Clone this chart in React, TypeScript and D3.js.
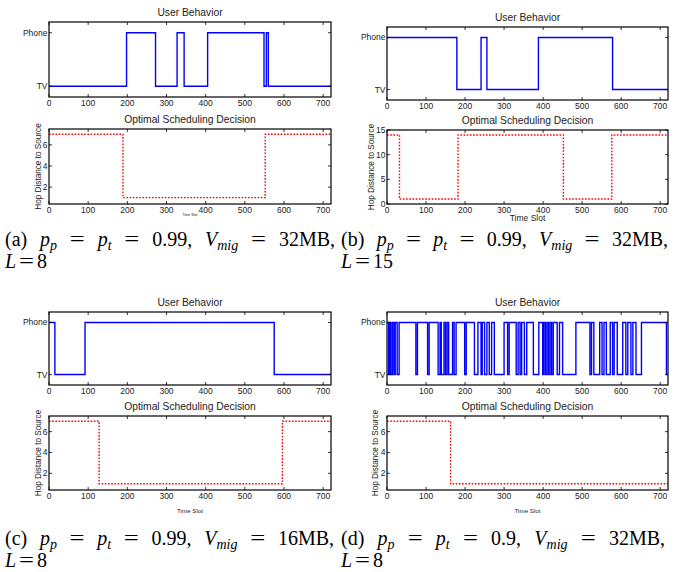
import React from "react";
import * as d3 from "d3";

// ---------------- DATA ----------------
const X_MAX = 720;
const xTickValues = [0, 100, 200, 300, 400, 500, 600, 700];
const userStates = ["TV", "Phone"];

// (a)
const userA_times = [0, 198, 272, 327, 345, 405, 549, 555, 560];
const userA_states = ["TV", "Phone", "TV", "Phone", "TV", "Phone", "TV", "Phone", "TV"];
const decA_times = [0, 189, 552];
const decA_hops = [7, 1, 7];

// (b)
const userB_times = [0, 179, 241, 256, 388, 578];
const userB_states = ["Phone", "TV", "Phone", "TV", "Phone", "TV"];
const decB_times = [0, 32, 182, 452, 576];
const decB_hops = [14, 1, 14, 1, 14];

// (c)
const userC_times = [0, 15, 92, 575];
const userC_states = ["Phone", "TV", "Phone", "TV"];
const decC_times = [0, 128, 596];
const decC_hops = [7, 1, 7];

// (d) – periods spent on the TV (Phone otherwise)
const userD_tvPeriods: [number, number][] = [
  [4, 7], [10, 14], [18, 21], [26, 31],
  [74, 78], [104, 108],
  [131, 136], [139, 146], [150, 154], [158, 168], [172, 177],
  [199, 203], [224, 233],
  [241, 244], [250, 256], [262, 268], [275, 300],
  [309, 313], [331, 336], [341, 345], [352, 358], [375, 389],
  [399, 402], [406, 410], [414, 418], [422, 426],
  [436, 442], [450, 484],
  [520, 524], [530, 545], [551, 556], [562, 572], [578, 582],
  [590, 604], [612, 617], [625, 630], [638, 652],
  [716, 720],
];
const decD_times = [0, 163];
const decD_hops = [7, 1];

const hopTicksSmall = [2, 4, 6];
const hopTicksLarge = [0, 5, 10, 15];

// ---------------- HELPERS ----------------
const SANS = "'Liberation Sans', Arial, Helvetica, sans-serif";
const SERIF = "'Liberation Serif', 'Times New Roman', serif";

function stepPoints(times: number[], values: number[]): [number, number][] {
  const pts: [number, number][] = times.map((t, i) => [t, values[i]]);
  pts.push([X_MAX, values[values.length - 1]]);
  return pts;
}
function userPoints(times: number[], states: string[]) {
  return stepPoints(times, states.map((s) => userStates.indexOf(s)));
}
function tvPeriodsToPoints(periods: [number, number][]) {
  const times: number[] = [0];
  const vals: number[] = [1];
  periods.forEach(([a, b]) => {
    times.push(a); vals.push(0);
    if (b < X_MAX) { times.push(b); vals.push(1); }
  });
  return stepPoints(times, vals);
}

type AxesProps = {
  left: number; right: number; top: number; bottom: number;
  yDomain: [number, number];
  yTicks: number[];
  yFormat: (v: number) => string;
  data: [number, number][];
  stroke: string;
  dashed?: boolean;
  title: string;
  xlabel?: string;
  xlabelSize?: number;
  xlabelY?: number;
  ylabel?: string;
  ylabelX?: number;
};

function Axes(p: AxesProps) {
  const x = d3.scaleLinear().domain([0, X_MAX]).range([p.left, p.right]);
  const y = d3.scaleLinear().domain(p.yDomain).range([p.bottom, p.top]);
  const line = d3.line<[number, number]>()
    .x((d) => x(d[0]))
    .y((d) => y(d[1]))
    .curve(d3.curveStepAfter);
  const tl = 3;
  const cx = (p.left + p.right) / 2;
  const cy = (p.top + p.bottom) / 2;
  return (
    <g>
      <text x={cx} y={p.top - 6.5} textAnchor="middle" fontFamily={SANS} fontSize={10.3} fill="#222">
        {p.title}
      </text>
      <path d={line(p.data) || ""} fill="none" stroke={p.stroke} strokeWidth={1.4}
        strokeDasharray={p.dashed ? "1.6 1.6" : undefined} />
      {xTickValues.map((t) => (
        <g key={"x" + t}>
          <line x1={x(t)} x2={x(t)} y1={p.bottom} y2={p.bottom - tl} stroke="#000" strokeWidth={0.8} />
          <line x1={x(t)} x2={x(t)} y1={p.top} y2={p.top + tl} stroke="#000" strokeWidth={0.8} />
          <text x={x(t)} y={p.bottom + 8.5} textAnchor="middle" fontFamily={SANS} fontSize={8.5} fill="#222">
            {String(t)}
          </text>
        </g>
      ))}
      {p.yTicks.map((v) => (
        <g key={"y" + v}>
          <line x1={p.left} x2={p.left + tl} y1={y(v)} y2={y(v)} stroke="#000" strokeWidth={0.8} />
          <line x1={p.right} x2={p.right - tl} y1={y(v)} y2={y(v)} stroke="#000" strokeWidth={0.8} />
          <text x={p.left - 1.5} y={y(v) + 3} textAnchor="end" fontFamily={SANS} fontSize={8.5} fill="#222">
            {p.yFormat(v)}
          </text>
        </g>
      ))}
      <rect x={p.left} y={p.top} width={p.right - p.left} height={p.bottom - p.top}
        fill="none" stroke="#000" strokeWidth={1.2} />
      {p.xlabel && (
        <text x={cx} y={p.xlabelY} textAnchor="middle" fontFamily={SANS} fontSize={p.xlabelSize} fill="#222">
          {p.xlabel}
        </text>
      )}
      {p.ylabel && (
        <text transform={`translate(${p.ylabelX},${cy}) rotate(-90)`} textAnchor="middle"
          fontFamily={SANS} fontSize={8.2} fill="#222">
          {p.ylabel}
        </text>
      )}
    </g>
  );
}

// ---------------- CAPTIONS ----------------
const CAP_FS = 20;
const SUB_FS = 14;
const SUB_DY = 3.5;
const EQ_W = 15;
const LINE_GAP = 22;
type Seg = { t: string; it?: boolean; sub?: boolean };

let measureCtx: CanvasRenderingContext2D | null = null;
function segWidth(s: Seg) {
  if (s.t === "=") return EQ_W;
  if (!measureCtx) measureCtx = document.createElement("canvas").getContext("2d");
  const fs = s.sub ? SUB_FS : CAP_FS;
  if (!measureCtx) return s.t.length * fs * 0.5;
  measureCtx.font = `${s.it ? "italic " : ""}${fs}px 'Liberation Serif', 'Times New Roman', serif`;
  return measureCtx.measureText(s.t).width;
}

function Piece({ x, y, segs }: { x: number; y: number; segs: Seg[] }) {
  if (segs.length === 1 && segs[0].t === "=") {
    return (
      <text x={x} y={y} fontFamily={SERIF} fontSize={CAP_FS} fill="#000"
        textLength={EQ_W} lengthAdjust="spacingAndGlyphs">=</text>
    );
  }
  let prevSub = false;
  return (
    <text x={x} y={y} fontFamily={SERIF} fontSize={CAP_FS} fill="#000">
      {segs.map((s, i) => {
        const dy = s.sub && !prevSub ? SUB_DY : !s.sub && prevSub ? -SUB_DY : 0;
        prevSub = !!s.sub;
        return (
          <tspan key={i} dy={dy} fontStyle={s.it ? "italic" : "normal"} fontSize={s.sub ? SUB_FS : CAP_FS}>
            {s.t}
          </tspan>
        );
      })}
    </text>
  );
}

function Caption({ x, y, width, label, pp, mig, L }:
  { x: number; y: number; width: number; label: string; pp: string; mig: string; L: string }) {
  const pieces: Seg[][] = [
    [{ t: "(" + label + ")" }],
    [{ t: "p", it: true }, { t: "p", it: true, sub: true }],
    [{ t: "=" }],
    [{ t: "p", it: true }, { t: "t", it: true, sub: true }],
    [{ t: "=" }],
    [{ t: pp + "," }],
    [{ t: "V", it: true }, { t: "mig", it: true, sub: true }],
    [{ t: "=" }],
    [{ t: mig + "MB," }],
  ];
  const widths = pieces.map((p) => p.reduce((a, s) => a + segWidth(s), 0));
  const total = widths.reduce((a, b) => a + b, 0);
  const gap = (width - total) / (pieces.length - 1);
  let cur = x;
  const xs = widths.map((w) => { const v = cur; cur += w + gap; return v; });
  const lW = segWidth({ t: "L", it: true });
  return (
    <g>
      {pieces.map((p, i) => <Piece key={i} x={xs[i]} y={y} segs={p} />)}
      <Piece x={x} y={y + LINE_GAP} segs={[{ t: "L", it: true }]} />
      <Piece x={x + lW + 3} y={y + LINE_GAP} segs={[{ t: "=" }]} />
      <Piece x={x + lW + 3 + EQ_W + 3} y={y + LINE_GAP} segs={[{ t: L }]} />
    </g>
  );
}

const userFmt = (v: number) => userStates[v];
const numFmt = (v: number) => String(v);

export default function App() {
  const L1 = 49, R1 = 331, L2 = 387, R2 = 668;
  return (
    <svg width={675} height={572} style={{ position: "absolute", left: 0, top: 0, background: "#fff" }}>
      <rect width={675} height={572} fill="#fff" />
      {/* (a) */}
      <Axes left={L1} right={R1} top={22} bottom={97} yDomain={[-0.2, 1.2]} yTicks={[0, 1]} yFormat={userFmt}
        data={userPoints(userA_times, userA_states)} stroke="#0000ff" title="User Behavior" />
      <Axes left={L1} right={R1} top={129} bottom={204} yDomain={[0.4, 7.5]} yTicks={hopTicksSmall} yFormat={numFmt}
        data={stepPoints(decA_times, decA_hops)} stroke="#ff0000" dashed title="Optimal Scheduling Decision"
        xlabel="Time Slot" xlabelSize={3.6} xlabelY={216} ylabel="Hop Distance to Source" ylabelX={41} />
      <Caption x={5} y={246} width={330} label="a" pp="0.99" mig="32" L="8" />

      {/* (b) */}
      <Axes left={L2} right={R2} top={27} bottom={100} yDomain={[-0.2, 1.2]} yTicks={[0, 1]} yFormat={userFmt}
        data={userPoints(userB_times, userB_states)} stroke="#0000ff" title="User Behavior" />
      <Axes left={L2} right={R2} top={130} bottom={204} yDomain={[0, 15]} yTicks={hopTicksLarge} yFormat={numFmt}
        data={stepPoints(decB_times, decB_hops)} stroke="#ff0000" dashed title="Optimal Scheduling Decision"
        xlabel="Time Slot" xlabelSize={8.5} xlabelY={221} ylabel="Hop Distance to Source" ylabelX={374} />
      <Caption x={341} y={246} width={327} label="b" pp="0.99" mig="32" L="15" />

      {/* (c) */}
      <Axes left={L1} right={R1} top={312} bottom={385} yDomain={[-0.2, 1.2]} yTicks={[0, 1]} yFormat={userFmt}
        data={userPoints(userC_times, userC_states)} stroke="#0000ff" title="User Behavior" />
      <Axes left={L1} right={R1} top={416} bottom={490} yDomain={[0.4, 7.5]} yTicks={hopTicksSmall} yFormat={numFmt}
        data={stepPoints(decC_times, decC_hops)} stroke="#ff0000" dashed title="Optimal Scheduling Decision"
        xlabel="Time Slot" xlabelSize={6.2} xlabelY={513} ylabel="Hop Distance to Source" ylabelX={41} />
      <Caption x={5} y={545} width={329} label="c" pp="0.99" mig="16" L="8" />

      {/* (d) */}
      <Axes left={L2} right={R2} top={312} bottom={385} yDomain={[-0.2, 1.2]} yTicks={[0, 1]} yFormat={userFmt}
        data={tvPeriodsToPoints(userD_tvPeriods)} stroke="#0000ff" title="User Behavior" />
      <Axes left={L2} right={R2} top={416} bottom={490} yDomain={[0.4, 7.5]} yTicks={hopTicksSmall} yFormat={numFmt}
        data={stepPoints(decD_times, decD_hops)} stroke="#ff0000" dashed title="Optimal Scheduling Decision"
        xlabel="Time Slot" xlabelSize={6.2} xlabelY={513} ylabel="Hop Distance to Source" ylabelX={378} />
      <Caption x={341} y={545} width={324} label="d" pp="0.9" mig="32" L="8" />
    </svg>
  );
}
